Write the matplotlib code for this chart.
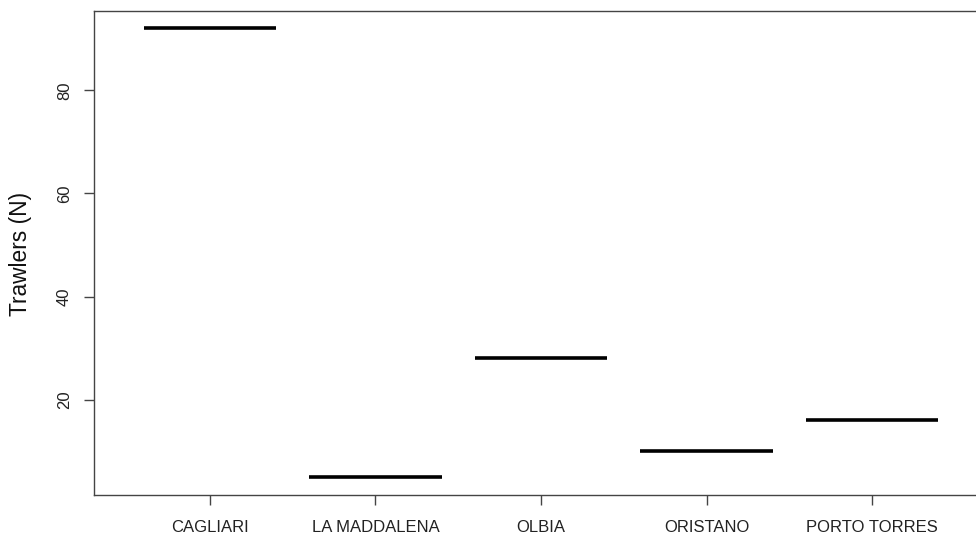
import matplotlib
matplotlib.use("Agg")
import matplotlib.pyplot as plt

ports = ["CAGLIARI", "LA MADDALENA", "OLBIA", "ORISTANO", "PORTO TORRES"]
trawlers = [92, 5, 28, 10, 16]
yticks = [20, 40, 60, 80]

plt.rcParams["font.family"] = ["Liberation Sans", "DejaVu Sans"]

fig = plt.figure(figsize=(9.76, 5.35), dpi=100)
# plot region is cropped on the right in the original, so the axes run past the edge
ax = fig.add_axes([94/976, 1 - 495/535, 894/976, 484.5/535])

pos = list(range(1, len(ports) + 1))
for p, v in zip(pos, trawlers):
	ax.hlines(v, p - 0.4, p + 0.4, color="black", linewidth=2.6, capstyle="butt")

# R style axis limits (4% extension)
lo, hi = min(trawlers), max(trawlers)
ext = (hi - lo) * 0.04
ax.set_ylim(lo - ext, hi + ext)
ax.set_xlim(0.3, len(ports) + 0.7)

ax.set_xticks(pos)
ax.set_xticklabels(ports, fontsize=12, color="#222222")
ax.set_yticks(yticks)
ax.set_yticklabels([str(t) for t in yticks], fontsize=12, color="#222222", rotation=90, va="center")
ax.tick_params(axis="both", direction="out", length=7.5, width=1, color="#444444")
ax.tick_params(axis="x", pad=10.5)
ax.tick_params(axis="y", pad=8.5)

for s in ax.spines.values():
	s.set_color("#444444")
	s.set_linewidth(1)

fig.text(21/976, 1 - 254/535, "Trawlers (N)", rotation=90, ha="center", va="center", fontsize=16.4, color="#111111")

fig.savefig("out.png", dpi=100)
